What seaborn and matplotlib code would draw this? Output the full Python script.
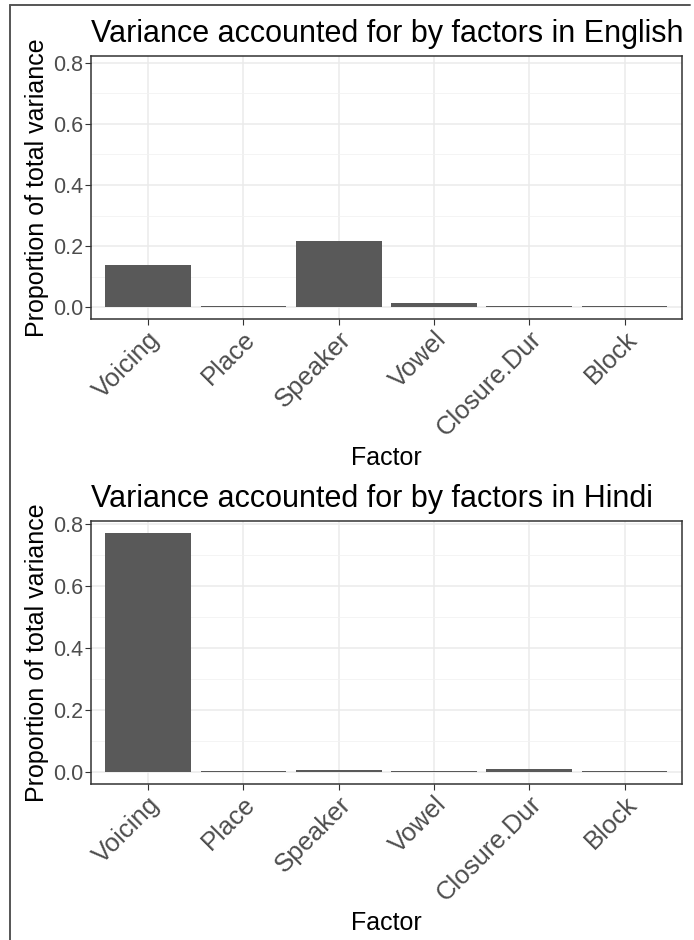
import matplotlib
matplotlib.use('Agg')
import matplotlib.pyplot as plt
from matplotlib.lines import Line2D
import pandas as pd
import seaborn as sns

factors = ['Voicing', 'Place', 'Speaker', 'Vowel', 'Closure.Dur', 'Block']
english_var = [0.138, 0.004, 0.216, 0.014, 0.004, 0.004]
hindi_var = [0.770, 0.003, 0.0075, 0.004, 0.011, 0.003]
ylims = [(-0.039, 0.823), (-0.0385, 0.809)]

sns.set_theme(style='white')
plt.rcParams['font.family'] = ['Liberation Sans', 'DejaVu Sans']

fig = plt.figure(figsize=(6.94, 9.4), dpi=100)
ax_en = fig.add_axes([91 / 694, 1 - 319.3 / 940, 590.7 / 694, 263.6 / 940])
ax_hi = fig.add_axes([91 / 694, 1 - 784.3 / 940, 590.7 / 694, 263.0 / 940])

panels = [(ax_en, english_var, 'Variance accounted for by factors in English'),
          (ax_hi, hindi_var, 'Variance accounted for by factors in Hindi')]

for (ax, vals, title), lim in zip(panels, ylims):
    df = pd.DataFrame({'Factor': factors, 'Variance': vals})
    sns.barplot(data=df, x='Factor', y='Variance', order=factors, color='#595959',
                saturation=1, width=0.9, errorbar=None, linewidth=0, ax=ax, zorder=3)
    ax.set_xlim(-0.6, len(factors) - 0.4)
    ax.set_ylim(*lim)
    ax.set_yticks([0.0, 0.2, 0.4, 0.6, 0.8])
    ax.set_yticks([0.1, 0.3, 0.5, 0.7], minor=True)
    ax.grid(which='major', color='#EBEBEB', lw=1.1, zorder=0)
    ax.grid(which='minor', axis='y', color='#F2F2F2', lw=0.6, zorder=0)
    ax.set_axisbelow(True)
    for s in ax.spines.values():
        s.set_color('#333333')
        s.set_linewidth(1.1)
    ax.tick_params(axis='both', which='major', length=4, width=0.8, color='#333333',
                   labelcolor='#4D4D4D', labelsize=15.5, left=True, bottom=True, pad=1.5)
    ax.tick_params(which='minor', length=0)
    ax.set_yticklabels(['0.0', '0.2', '0.4', '0.6', '0.8'])
    plt.setp(ax.get_xticklabels(), rotation=45, ha='right', va='top',
             rotation_mode='anchor', fontsize=18.5)
    ax.set_xlabel('Factor', fontsize=18, color='black', labelpad=4)
    ax.set_ylabel('Proportion of total variance', fontsize=18, color='black', labelpad=3)
    ax.set_title(title, fontsize=22, color='black', loc='left', x=0, pad=10)

# outer frame lines (top and left edge)
fig.add_artist(Line2D([10 / 694, 10 / 694], [0, 1 - 5 / 940], transform=fig.transFigure,
                      color='#555555', lw=1.4))
fig.add_artist(Line2D([10 / 694, 690 / 694], [1 - 5 / 940, 1 - 5 / 940], transform=fig.transFigure,
                      color='#555555', lw=1.4))

fig.savefig('out.png', dpi=100, facecolor='white')
